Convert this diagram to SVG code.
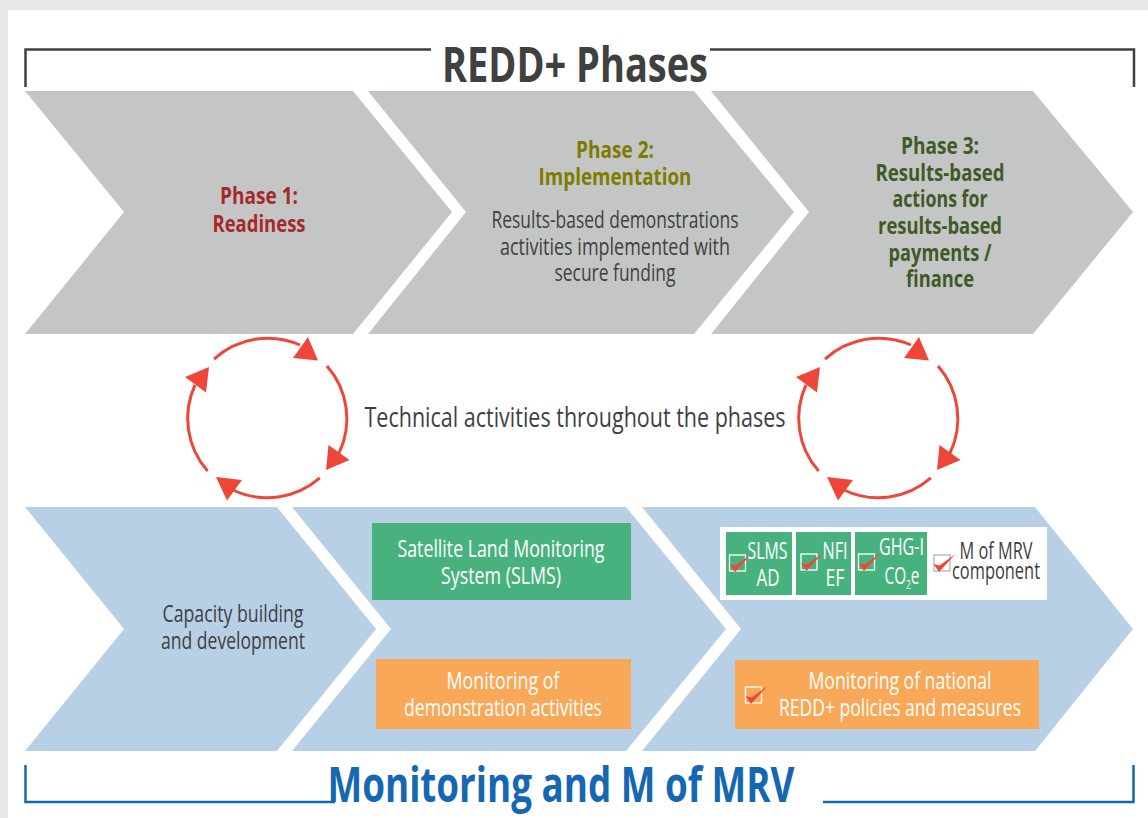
<svg xmlns="http://www.w3.org/2000/svg" width="1148" height="818" viewBox="0 0 1148 818">
<style>
text{font-family:"Open Sans","Noto Sans","Liberation Sans",sans-serif;text-anchor:middle}
.g{fill:#c4c6c5}.b{fill:#b8d0e6}
.t{font-size:23px;fill:#404041}
.w{font-size:24px;fill:#fff}
.h{font-size:24px;font-weight:700}
.s{font-size:24px;fill:#fff}
.arc{fill:none;stroke:#ef463a;stroke-width:3}
.ah{fill:#ef463a}
.cb{fill:none;stroke:#fff;stroke-width:1.300}
.ck{fill:#ef463a}
</style>
<defs>
<path id="tick" class="ck" d="M0 9L5.500 17L22 -1L6 10.500Z"/>
<g id="chk"><rect class="cb" x="0" y="0" width="16" height="16"/><use href="#tick"/></g>
<g id="circ">
<path class="arc" d="M214 359.200A79.600 79.600 0 0 1 300 345"/>
<path class="arc" d="M327 366A79.600 79.600 0 0 1 339 453"/>
<path class="arc" d="M319.800 477.900A79.600 79.600 0 0 1 233 490"/>
<path class="arc" d="M207.600 471A79.600 79.600 0 0 1 195 385"/>
<path class="ah" d="M308 337L318 360.500L293 358Z"/>
<path class="ah" d="M349.500 460L326 470L328.500 445Z"/>
<path class="ah" d="M216 477L242 480L227 500.500Z"/>
<path class="ah" d="M185 377L209 367L206 392.500Z"/>
</g>
</defs>
<rect width="1148" height="818" fill="#fff"/>
<path d="M0 0H1148V10H8V818H0Z" fill="#e6e7e8"/>
<g id="phases-frame" fill="none" stroke="#404041" stroke-width="2.500">
<path d="M25.500 87V49.500H431"/><path d="M710 49.500H1134V87"/>
</g>
<text id="title" x="575" y="82" font-size="48" font-weight="700" fill="#404041" textLength="266" lengthAdjust="spacingAndGlyphs">REDD+ Phases</text>
<g id="phase1"><path class="g" d="M25 91H353L452 212L353 334H25L124 212Z"/>
<text class="h" x="259" y="204" fill="#a5282a" textLength="78" lengthAdjust="spacingAndGlyphs">Phase 1:</text>
<text class="h" x="259" y="232" fill="#a5282a" textLength="93" lengthAdjust="spacingAndGlyphs">Readiness</text></g>
<g id="phase2"><path class="g" d="M368 91H694L794 212L694 334H368L466 212Z"/>
<text class="h" x="615" y="158" fill="#7f7a00" textLength="78" lengthAdjust="spacingAndGlyphs">Phase 2:</text>
<text class="h" x="615" y="185" fill="#7f7a00" textLength="153" lengthAdjust="spacingAndGlyphs">Implementation</text>
<text class="t" x="615" y="228" textLength="247" lengthAdjust="spacingAndGlyphs">Results-based demonstrations</text>
<text class="t" x="615" y="255" textLength="230" lengthAdjust="spacingAndGlyphs">activities implemented with</text>
<text class="t" x="615" y="281" textLength="121" lengthAdjust="spacingAndGlyphs">secure funding</text></g>
<g id="phase3"><path class="g" d="M711 91H1033L1133 212L1033 334H711L809 212Z"/>
<text class="h" x="940" y="154" fill="#3f5a26" textLength="78" lengthAdjust="spacingAndGlyphs">Phase 3:</text>
<text class="h" x="940" y="181" fill="#3f5a26" textLength="129" lengthAdjust="spacingAndGlyphs">Results-based</text>
<text class="h" x="940" y="207" fill="#3f5a26" textLength="95" lengthAdjust="spacingAndGlyphs">actions for</text>
<text class="h" x="940" y="234" fill="#3f5a26" textLength="124" lengthAdjust="spacingAndGlyphs">results-based</text>
<text class="h" x="940" y="261" fill="#3f5a26" textLength="103" lengthAdjust="spacingAndGlyphs">payments /</text>
<text class="h" x="940" y="287" fill="#3f5a26" textLength="68" lengthAdjust="spacingAndGlyphs">finance</text></g>
<g id="cycle-left"><use href="#circ"/></g>
<g id="cycle-right"><use href="#circ" x="611"/></g>
<text id="tech" x="575" y="427" font-size="28" fill="#404041" textLength="421" lengthAdjust="spacingAndGlyphs">Technical activities throughout the phases</text>
<g id="mon1"><path class="b" d="M25 507H277L376 629L277 751H25L124 629Z"/>
<text class="t" x="233" y="622" textLength="141" lengthAdjust="spacingAndGlyphs">Capacity building</text>
<text class="t" x="233" y="649" textLength="144" lengthAdjust="spacingAndGlyphs">and development</text></g>
<g id="mon2"><path class="b" d="M292 507H626L726 629L626 751H292L391 629Z"/></g>
<g id="slms"><rect x="372" y="523" width="259" height="77" fill="#48b27f"/>
<text class="w" x="501" y="557" textLength="207" lengthAdjust="spacingAndGlyphs">Satellite Land Monitoring</text>
<text class="w" x="501" y="584" textLength="120" lengthAdjust="spacingAndGlyphs">System (SLMS)</text></g>
<g id="demo"><rect x="376" y="659" width="255" height="70" fill="#f9a858"/>
<text class="w" x="503" y="689" textLength="113" lengthAdjust="spacingAndGlyphs">Monitoring of</text>
<text class="w" x="503" y="716" textLength="198" lengthAdjust="spacingAndGlyphs">demonstration activities</text></g>
<g id="mon3"><path class="b" d="M642 507H1035L1133 629L1035 751H642L741 629Z"/></g>
<g id="legend"><rect x="720" y="527" width="327" height="73" fill="#fff"/>
<rect x="726" y="532" width="66" height="63" fill="#48b27f"/>
<rect x="796" y="532" width="55" height="63" fill="#48b27f"/>
<rect x="855" y="532" width="72" height="63" fill="#48b27f"/>
<use href="#chk" x="729.500" y="555"/><use href="#chk" x="801" y="554"/><use href="#chk" x="858.500" y="554"/>
<text class="s" x="767.500" y="559" textLength="40" lengthAdjust="spacingAndGlyphs">SLMS</text>
<text class="s" x="768" y="586" textLength="23" lengthAdjust="spacingAndGlyphs">AD</text>
<text class="s" x="835" y="559" textLength="25" lengthAdjust="spacingAndGlyphs">NFI</text>
<text class="s" x="835" y="586" textLength="19" lengthAdjust="spacingAndGlyphs">EF</text>
<text class="s" x="901.500" y="555" textLength="45" lengthAdjust="spacingAndGlyphs">GHG-I</text>
<text class="s" x="902" y="584" textLength="35" lengthAdjust="spacingAndGlyphs">CO<tspan font-size="13" dy="5">2</tspan><tspan dy="-5">e</tspan></text>
<rect x="934" y="555" width="16" height="16" fill="none" stroke="#bcbec0" stroke-width="1.500"/>
<use href="#tick" x="933.500" y="555"/>
<text class="t" x="996" y="559" textLength="73" lengthAdjust="spacingAndGlyphs">M of MRV</text>
<text class="t" x="996" y="579" textLength="88" lengthAdjust="spacingAndGlyphs">component</text></g>
<g id="national"><rect x="735" y="660" width="304" height="69" fill="#f9a858"/>
<use href="#chk" x="745.500" y="687"/>
<text class="w" x="900" y="689" textLength="183" lengthAdjust="spacingAndGlyphs">Monitoring of national</text>
<text class="w" x="900" y="716" textLength="242" lengthAdjust="spacingAndGlyphs">REDD+ policies and measures</text></g>
<g id="monitoring-frame" fill="none" stroke="#1667b2" stroke-width="2.500">
<path d="M25.500 765V802H335"/><path d="M823 802H1133.500V765"/>
</g>
<text id="bottom-title" x="561" y="802" font-size="48" font-weight="700" fill="#1667b2" textLength="467" lengthAdjust="spacingAndGlyphs">Monitoring and M of MRV</text>
</svg>
